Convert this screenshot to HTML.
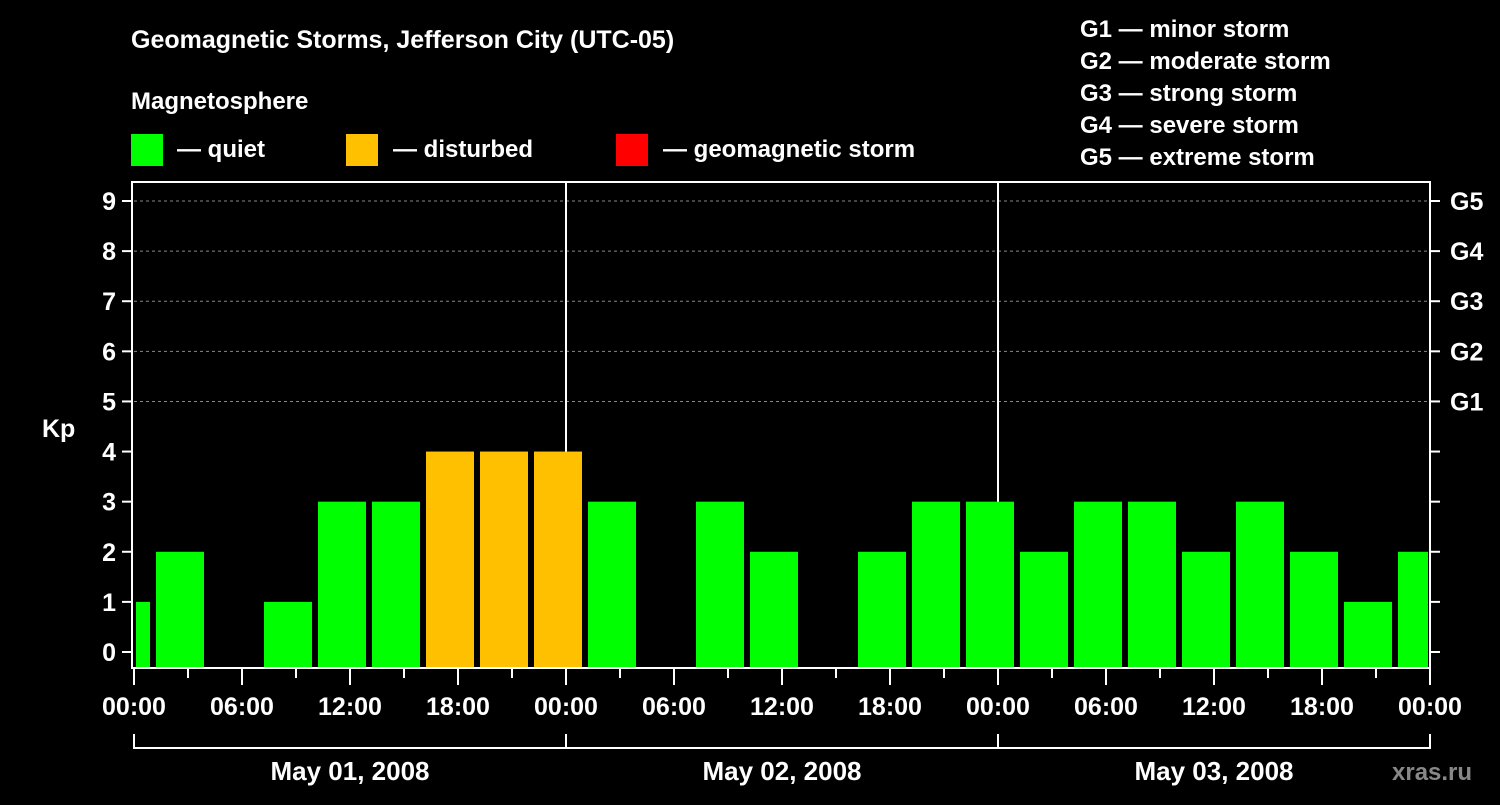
<!DOCTYPE html>
<html><head><meta charset="utf-8"><style>
body{margin:0;background:#000;width:1500px;height:800px;overflow:hidden}
text{font-family:"Liberation Sans",Arial,sans-serif;font-weight:bold;fill:#fff}
</style></head><body>
<svg id="chart" width="1500" height="800" xmlns="http://www.w3.org/2000/svg">
<rect width="1500" height="800" fill="#000"/>
<text x="131" y="48" font-size="25">Geomagnetic Storms, Jefferson City (UTC-05)</text>
<text x="131" y="109" font-size="24">Magnetosphere</text>
<g>
<rect x="131" y="134" width="32" height="32" fill="#00ff00"/>
<text x="177" y="157" font-size="24">— quiet</text>
<rect x="346" y="134" width="32" height="32" fill="#ffc000"/>
<text x="393" y="157" font-size="24">— disturbed</text>
<rect x="616" y="134" width="32" height="32" fill="#ff0000"/>
<text x="663" y="157" font-size="24">— geomagnetic storm</text>
</g>
<g font-size="24">
<text x="1080" y="37">G1 — minor storm</text>
<text x="1080" y="69">G2 — moderate storm</text>
<text x="1080" y="101">G3 — strong storm</text>
<text x="1080" y="133">G4 — severe storm</text>
<text x="1080" y="165">G5 — extreme storm</text>
</g>
<g id="grid"></g><g id="bars"></g><g id="axes"></g>
<text x="42" y="437" font-size="25">Kp</text>
<text x="1392" y="780" font-size="24" style="fill:#888">xras.ru</text>
</svg>
<script>
const kpValues=[1,2,0,1,3,3,4,4,4,3,0,3,2,0,2,3,3,2,3,3,2,3,2,1,2];
const slotStartHours=[-2,1,4,7,10,13,16,19,22,25,28,31,34,37,40,43,46,49,52,55,58,61,64,67,70];
const timeLabels=["00:00","06:00","12:00","18:00","00:00","06:00","12:00","18:00","00:00","06:00","12:00","18:00","00:00"];
const dateLabels=["May 01, 2008","May 02, 2008","May 03, 2008"];
const gLabels=["G1","G2","G3","G4","G5"];
const NS="http://www.w3.org/2000/svg";
const X0=134,X1=1430,YT=182,YB=668,H=72;
const xs=h=>X0+(X1-X0)*h/H;
const ys=v=>652-(652-201)*v/9;
function mk(p,t,a){const e=document.createElementNS(NS,t);for(const k in a)e.setAttribute(k,a[k]);p.appendChild(e);return e;}
const grid=document.getElementById('grid'),bars=document.getElementById('bars'),axes=document.getElementById('axes');
for(let v=5;v<=9;v++){const l=mk(grid,'line',{x1:X0,x2:X1,y1:ys(v),y2:ys(v),stroke:'#888','stroke-dasharray':'3,3'});

}
for(let d=1;d<3;d++){const l=mk(grid,'line',{x1:xs(d*24),x2:xs(d*24),y1:YT,y2:YB,stroke:'#fff','stroke-width':2});

}
kpValues.forEach((v,i)=>{if(v<=0)return;
let a=xs(slotStartHours[i])+4,b=xs(slotStartHours[i]+3)-2;a=Math.max(a,X0+2);b=Math.min(b,X1-2);
const r=mk(bars,'rect',{x:a,y:ys(v),width:b-a,height:YB-ys(v),fill:v>=5?'#ff0000':(v>=4?'#ffc000':'#00ff00')});

});
const f=mk(axes,'rect',{x:X0-2,y:YT,width:X1-X0+2,height:YB-YT,fill:'none',stroke:'#fff','stroke-width':2});


for(let v=0;v<=9;v++){const y=ys(v);
mk(axes,'line',{x1:122,x2:132,y1:y,y2:y,stroke:'#fff','stroke-width':2});
mk(axes,'line',{x1:1430,x2:1440,y1:y,y2:y,stroke:'#fff','stroke-width':2});
const t=mk(axes,'text',{x:116,y:y+9,'text-anchor':'end','font-size':25});t.textContent=v;

}
gLabels.forEach((g,i)=>{const t=mk(axes,'text',{x:1450,y:ys(5+i)+9,'font-size':25});t.textContent=g;

});
for(let h=0;h<=H;h+=3){const x=xs(h);mk(axes,'line',{x1:x,x2:x,y1:669,y2:h%6==0?685:678,stroke:'#fff','stroke-width':2});}
timeLabels.forEach((s,i)=>{const t=mk(axes,'text',{x:xs(i*6),y:715,'text-anchor':'middle','font-size':25});t.textContent=s;

});
mk(axes,'line',{x1:X0,x2:X1,y1:748,y2:748,stroke:'#fff','stroke-width':2});
for(let d=0;d<=3;d++)mk(axes,'line',{x1:xs(d*24),x2:xs(d*24),y1:734,y2:749,stroke:'#fff','stroke-width':2});
dateLabels.forEach((s,i)=>{const t=mk(axes,'text',{x:xs(i*24+12),y:780,'text-anchor':'middle','font-size':26});t.textContent=s;

});
</script>
</body></html>
